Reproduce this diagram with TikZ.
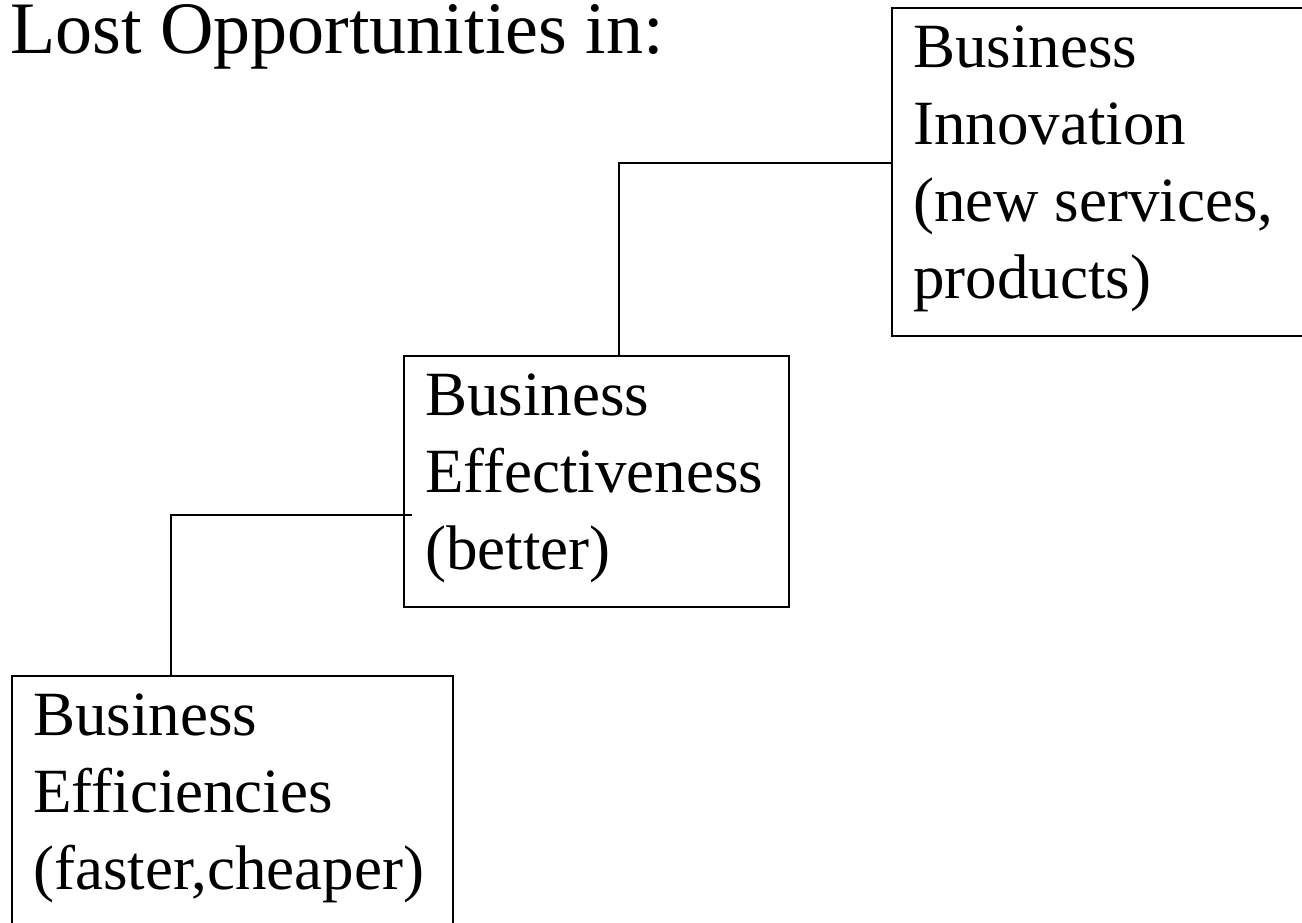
\documentclass[tikz,border=0pt]{standalone}
\usepackage{fontspec}
\setmainfont{Liberation Serif}
\usetikzlibrary{positioning}

\begin{document}
\begin{tikzpicture}[
    x=1pt, y=-1pt,
    stage/.style={draw, line width=1.8pt, anchor=north west, inner sep=0pt},
    stagetext/.style={anchor=north west, inner sep=0pt, align=left,
        font=\fontsize{63}{77}\selectfont, execute at begin node=\strut},
    headline/.style={anchor=base west, inner sep=0pt, font=\fontsize{74}{80}\selectfont},
    link/.style={line width=1.3pt}
]
    \useasboundingbox (0,0) rectangle (1302,922);

    \node[headline] (title) at (10,53) {Lost Opportunities in:};

    % the three steps, lowest first
    \node[stage, minimum width=441pt, minimum height=285pt] (effic) at (11,675) {};
    \node[stage, minimum width=385pt, minimum height=251pt] (effect) at (403,355) {};
    \node[stage, minimum width=429pt, minimum height=328pt] (inno) at (891,7) {};

    \node[stagetext] (effictext) at ([shift={(22,19)}]effic.north west)
        {Business\\Efficiencies\\(faster,cheaper)};
    \node[stagetext] (effecttext) at ([shift={(22,19)}]effect.north west)
        {Business\\Effectiveness\\(better)};
    \node[stagetext] (innotext) at ([shift={(22,19)}]inno.north west)
        {Business\\Innovation\\(new services,\\products)};

    % elbow joints
    \coordinate (lowbend) at (171,515);
    \coordinate (highbend) at (619,163);

    \draw[link] (effic.north -| lowbend) |- (effect.west |- lowbend) -- ++(9,0);
    \draw[link] (effect.north -| highbend) |- (inno.west |- highbend);
\end{tikzpicture}
\end{document}
